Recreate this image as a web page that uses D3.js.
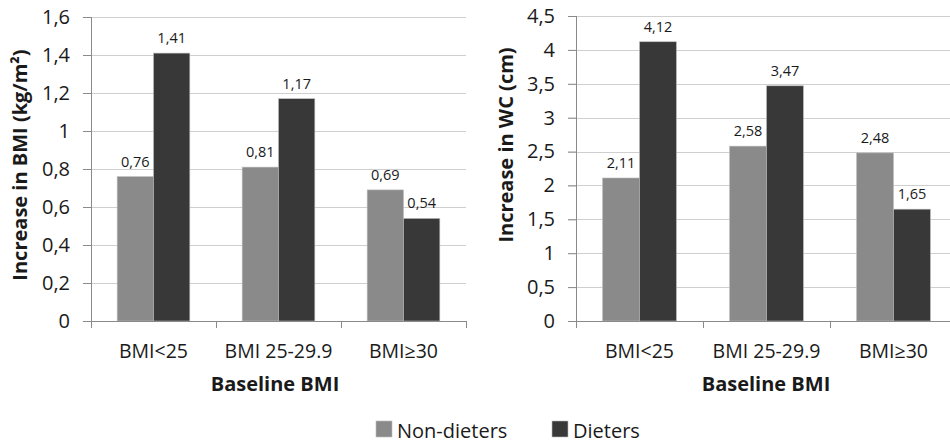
<!DOCTYPE html>
<html>
<head>
<meta charset="utf-8">
<script src="https://cdn.jsdelivr.net/npm/d3@7"></script>
<style>
  html, body { margin: 0; padding: 0; background: #fff; }
  svg { display: block; }
  text { font-family: "Open Sans", "Noto Sans", sans-serif; fill: #1a1a1a; }
</style>
</head>
<body>
<svg id="chart" width="950" height="444"></svg>
<script>
// Baseline BMI groups
const categories = ["BMI<25", "BMI 25-29.9", "BMI\u226530"];
const seriesNames = ["Non-dieters", "Dieters"];
const seriesColors = ["#8a8a8a", "#383838"];

// Increase in BMI (kg/m²)
const bmiNonDieters = [0.76, 0.81, 0.69];
const bmiDieters = [1.41, 1.17, 0.54];
const bmiTicks = [0, 0.2, 0.4, 0.6, 0.8, 1, 1.2, 1.4, 1.6];

// Increase in waist circumference (cm)
const wcNonDieters = [2.11, 2.58, 2.48];
const wcDieters = [4.12, 3.47, 1.65];
const wcTicks = [0, 0.5, 1, 1.5, 2, 2.5, 3, 3.5, 4, 4.5];

const svg = d3.select("#chart");
const fmt = v => String(v).replace(".", ",");
const FONT = "'Open Sans', 'Noto Sans', sans-serif";

function drawPanel(opts) {
  const { left, right, top, bottom, ymax, ticks, series, yTitle, titleX, titleY, xTitleX } = opts;
  const g = svg.append("g");

  const x0 = d3.scaleBand().domain(categories).range([left, right]).paddingInner(0).paddingOuter(0);
  const x1 = d3.scaleBand().domain(seriesNames).range([0, x0.bandwidth()]).paddingOuter(0.72).paddingInner(0);
  const y = d3.scaleLinear().domain([0, ymax]).range([bottom, top]);

  // horizontal gridlines
  g.append("g").selectAll("line").data(ticks.filter(t => t > 0)).join("line")
    .attr("x1", left - 8).attr("x2", Math.min(right, 950))
    .attr("y1", d => Math.round(y(d)) + 0.5).attr("y2", d => Math.round(y(d)) + 0.5)
    .attr("stroke", "#cfcfcf").attr("stroke-width", 1);

  // bars
  const rows = categories.map((c, i) => seriesNames.map((s, j) => ({ cat: c, s, v: series[j][i], color: seriesColors[j] })));
  const grp = g.append("g").selectAll("g").data(rows).join("g")
    .attr("transform", d => `translate(${x0(d[0].cat)},0)`);
  grp.selectAll("rect").data(d => d).join("rect")
    .attr("x", d => x1(d.s)).attr("width", x1.bandwidth())
    .attr("y", d => y(d.v)).attr("height", d => y(0) - y(d.v))
    .attr("fill", d => d.color).attr("stroke", "#bdbdbd").attr("stroke-width", 0.6);
  grp.selectAll("text").data(d => d).join("text")
    .attr("x", d => x1(d.s) + x1.bandwidth() / 2).attr("y", d => y(d.v) - 10)
    .attr("text-anchor", "middle").attr("font-size", 14.5).text(d => fmt(d.v));

  // y axis
  const ya = g.append("g").attr("transform", `translate(${left},0)`)
    .call(d3.axisLeft(y).tickValues(ticks).tickFormat(fmt).tickSize(8).tickPadding(13));
  ya.select(".domain").attr("stroke", "#8a8a8a").attr("d", `M0.5,${top}V${bottom}`);
  ya.selectAll(".tick line").attr("stroke", "#8a8a8a");
  ya.selectAll(".tick text").attr("font-size", 20).attr("fill", "#1a1a1a").style("font-family", FONT);

  // x axis
  const xa = g.append("g").attr("transform", `translate(0,${bottom})`)
    .call(d3.axisBottom(x0).tickSize(0).tickPadding(0));
  xa.select(".domain").attr("stroke", "#8a8a8a").attr("d", `M${left},0.5H${right}`);
  xa.selectAll(".tick text").attr("font-size", 19.5).attr("fill", "#1a1a1a").attr("y", 37).attr("dy", 0)
    .style("font-family", FONT);
  // category boundary ticks
  const bounds = categories.map(c => x0(c)).concat([right]);
  xa.append("g").selectAll("line").data(bounds).join("line")
    .attr("x1", d => Math.round(d) + 0.5).attr("x2", d => Math.round(d) + 0.5)
    .attr("y1", 0).attr("y2", 7).attr("stroke", "#8a8a8a");

  // titles
  g.append("text").attr("x", xTitleX).attr("y", 391)
    .attr("text-anchor", "middle").attr("font-size", 20).attr("font-weight", "bold").text("Baseline BMI");
  g.append("text").attr("transform", `translate(${titleX},${titleY}) rotate(-90)`)
    .attr("text-anchor", "middle").attr("font-size", 20).attr("font-weight", "bold").text(yTitle);
}

drawPanel({ left: 91, right: 466, top: 17, bottom: 321, ymax: 1.6, ticks: bmiTicks,
  series: [bmiNonDieters, bmiDieters], yTitle: "Increase in BMI (kg/m\u00B2)",
  titleX: 27, titleY: 165, xTitleX: 275 });
drawPanel({ left: 576, right: 957, top: 16, bottom: 321, ymax: 4.5, ticks: wcTicks,
  series: [wcNonDieters, wcDieters], yTitle: "Increase in WC (cm)",
  titleX: 513, titleY: 145, xTitleX: 766 });

// legend
const legend = svg.append("g");
const legendX = [376, 552];
seriesNames.forEach((name, i) => {
  legend.append("rect").attr("x", legendX[i]).attr("y", 421).attr("width", 16).attr("height", 16)
    .attr("fill", seriesColors[i]).attr("stroke", "#bdbdbd").attr("stroke-width", 0.6);
  legend.append("text").attr("x", legendX[i] + 21).attr("y", 438).attr("font-size", 20).text(name);
});
</script>
</body>
</html>
